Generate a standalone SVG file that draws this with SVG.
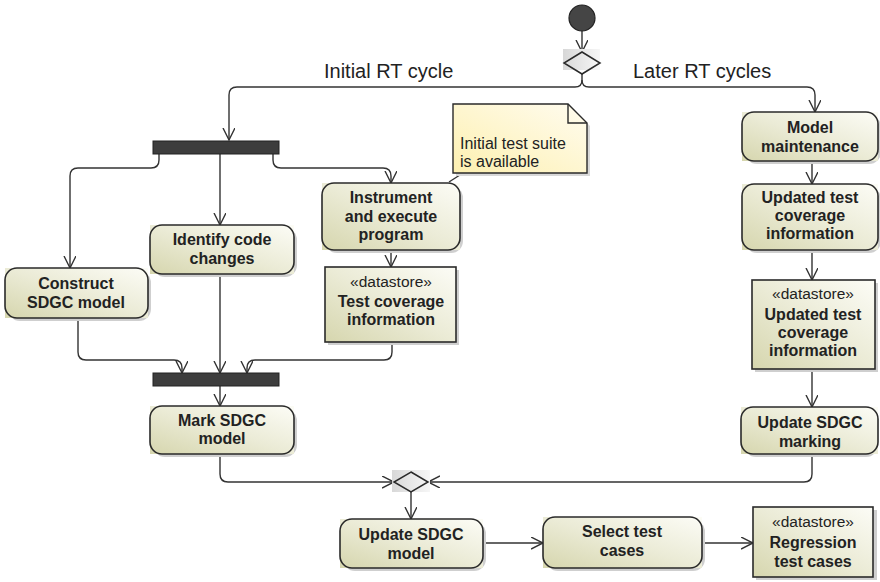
<svg xmlns="http://www.w3.org/2000/svg" width="880" height="582" viewBox="0 0 880 582">
<defs>
<linearGradient id="gNode" x1="0" y1="1" x2="1" y2="0">
<stop offset="0" stop-color="#d6d6ae"/>
<stop offset="0.5" stop-color="#ebebd6"/>
<stop offset="1" stop-color="#fcfcf6"/>
</linearGradient>
<linearGradient id="gNote" x1="0" y1="1" x2="1" y2="0">
<stop offset="0" stop-color="#fdf0b0"/>
<stop offset="1" stop-color="#fffcf0"/>
</linearGradient>
<linearGradient id="gDia" x1="0" y1="0" x2="1" y2="0">
<stop offset="0" stop-color="#d8d8d8"/>
<stop offset="1" stop-color="#f6f6f6"/>
</linearGradient>
<marker id="arr" markerUnits="userSpaceOnUse" markerWidth="14" markerHeight="14" refX="12" refY="6" orient="auto">
<path d="M0,0 L12,6 L0,12" fill="none" stroke="#333" stroke-width="1.4"/>
</marker>
<style>
.ln{fill:none;stroke:#333;stroke-width:1.4}
.ar{marker-end:url(#arr)}
.fill{fill:url(#gNode)}
.bd{fill:none;stroke:#2a2a2a;stroke-width:1.6}
.sh{fill:#cfcfcf}
.bar{fill:#3d3d3d;stroke:#222;stroke-width:1}
.t{font-family:"Liberation Sans",Arial,sans-serif;font-size:16px;font-weight:bold;fill:#222;text-anchor:middle}
.st{font-family:"Liberation Sans",Arial,sans-serif;font-size:15.5px;fill:#222;text-anchor:middle}
.lbl{font-family:"Liberation Sans",Arial,sans-serif;font-size:20px;fill:#222}
.nt{font-family:"Liberation Sans",Arial,sans-serif;font-size:16px;fill:#222}
</style>
</defs>
<rect width="880" height="582" fill="#fff"/>

<g id="connectors">
<path class="ln ar" d="M582,31 V52"/>
<path class="ln ar" d="M582,74 V80 Q582,87 575,87 H237 Q229,87 229,95 V140"/>
<path class="ln ar" d="M582,80 Q582,87 589,87 H807 Q815,87 815,95 V112"/>
<path class="ln ar" d="M159,154 V160 Q159,168 151,168 H78 Q70,168 70,176 V268"/>
<path class="ln ar" d="M220,154 V225"/>
<path class="ln ar" d="M273,154 V160 Q273,168 281,168 H383 Q391,168 391,176 V183"/>
<path class="ln ar" d="M391,250 V267"/>
<path class="ln ar" d="M78,318 V352 Q78,360 86,360 H174 Q182,360 182,368 V373"/>
<path class="ln ar" d="M220,274 V373"/>
<path class="ln ar" d="M392,342 V352 Q392,360 384,360 H255 Q247,360 247,368 V373"/>
<path class="ln ar" d="M220,386 V406"/>
<path class="ln ar" d="M220,454 V474 Q220,482 228,482 H394"/>
<path class="ln ar" d="M812,454 V474 Q812,482 804,482 H428"/>
<path class="ln ar" d="M411,492 V519"/>
<path class="ln ar" d="M483,543 H543"/>
<path class="ln ar" d="M702,543 H753"/>
<path class="ln ar" d="M812,161 V184"/>
<path class="ln ar" d="M812,250 V280"/>
<path class="ln ar" d="M812,369 V407"/>
<path class="ln" d="M463,173 L449,182"/>
<text class="lbl" x="324" y="78">Initial RT cycle</text>
<text class="lbl" x="633" y="78">Later RT cycles</text>
</g>

<g id="start">
<circle cx="582" cy="18" r="13" fill="#454545" stroke="#222" stroke-width="1.2"/>
</g>

<g id="decision">
<rect x="563" y="49" width="37" height="21" fill="url(#gDia)"/>
<polygon points="582,52 600,63 582,74 564,63" fill="none" stroke="#2a2a2a" stroke-width="1.5"/>
</g>

<g id="fork">
<rect class="bar" x="153" y="141" width="126" height="13"/>
</g>

<g id="construct">
<rect class="sh" x="8" y="271" width="143" height="50" rx="12"/>
<rect class="fill" x="5" y="268" width="143" height="50"/>
<rect class="bd" x="5" y="268" width="143" height="50" rx="12"/>
<text class="t" x="76" y="289">Construct</text>
<text class="t" x="76" y="308">SDGC model</text>
</g>

<g id="identify">
<rect class="sh" x="153" y="228" width="144" height="49" rx="12"/>
<rect class="fill" x="150" y="225" width="144" height="49"/>
<rect class="bd" x="150" y="225" width="144" height="49" rx="12"/>
<text class="t" x="222" y="245">Identify code</text>
<text class="t" x="222" y="264">changes</text>
</g>

<g id="instrument">
<rect class="sh" x="325" y="186" width="138" height="67" rx="12"/>
<rect class="fill" x="322" y="183" width="138" height="67"/>
<rect class="bd" x="322" y="183" width="138" height="67" rx="12"/>
<text class="t" x="391" y="203">Instrument</text>
<text class="t" x="391" y="222">and execute</text>
<text class="t" x="391" y="240">program</text>
</g>

<g id="note">
<polygon points="456,107 571,107 590,126 590,176 456,176" fill="#d8d8d8"/>
<polygon points="453,104 568,104 587,123 587,173 453,173" fill="url(#gNote)" stroke="#2a2a2a" stroke-width="1.4"/>
<path d="M568,104 V123 H587" fill="none" stroke="#2a2a2a" stroke-width="1.4"/>
<text class="nt" x="460" y="149">Initial test suite</text>
<text class="nt" x="460" y="167">is available</text>
</g>

<g id="testcoverage">
<rect class="sh" x="328" y="270" width="131" height="75"/>
<rect class="fill" x="325" y="267" width="131" height="75"/>
<rect class="bd" x="325" y="267" width="131" height="75"/>
<text class="st" x="391" y="287">«datastore»</text>
<text class="t" x="391" y="307">Test coverage</text>
<text class="t" x="391" y="325">information</text>
</g>

<g id="join">
<rect class="bar" x="153" y="373" width="126" height="13"/>
</g>

<g id="mark">
<rect class="sh" x="153" y="409" width="144" height="48" rx="12"/>
<rect class="fill" x="150" y="406" width="144" height="48"/>
<rect class="bd" x="150" y="406" width="144" height="48" rx="12"/>
<text class="t" x="222" y="426">Mark SDGC</text>
<text class="t" x="222" y="444">model</text>
</g>

<g id="merge">
<rect x="392" y="470" width="38" height="22" fill="url(#gDia)"/>
<polygon points="411,472 428,482 411,492 394,482" fill="none" stroke="#2a2a2a" stroke-width="1.5"/>
</g>

<g id="updatemodel">
<rect class="sh" x="343" y="522" width="143" height="49" rx="12"/>
<rect class="fill" x="340" y="519" width="143" height="49"/>
<rect class="bd" x="340" y="519" width="143" height="49" rx="12"/>
<text class="t" x="411" y="540">Update SDGC</text>
<text class="t" x="411" y="559">model</text>
</g>

<g id="select">
<rect class="sh" x="546" y="520" width="159" height="51" rx="12"/>
<rect class="fill" x="543" y="517" width="159" height="51"/>
<rect class="bd" x="543" y="517" width="159" height="51" rx="12"/>
<text class="t" x="622" y="537">Select test</text>
<text class="t" x="622" y="556">cases</text>
</g>

<g id="regression">
<rect class="sh" x="756" y="510" width="121" height="70"/>
<rect class="fill" x="753" y="507" width="120" height="70"/>
<rect class="bd" x="753" y="507" width="120" height="70"/>
<text class="st" x="813" y="527">«datastore»</text>
<text class="t" x="813" y="548">Regression</text>
<text class="t" x="813" y="567">test cases</text>
</g>

<g id="maintenance">
<rect class="sh" x="745" y="115" width="136" height="49" rx="12"/>
<rect class="fill" x="742" y="112" width="136" height="49"/>
<rect class="bd" x="742" y="112" width="136" height="49" rx="12"/>
<text class="t" x="810" y="133">Model</text>
<text class="t" x="810" y="152">maintenance</text>
</g>

<g id="updatedcov">
<rect class="sh" x="745" y="187" width="136" height="66" rx="12"/>
<rect class="fill" x="742" y="184" width="136" height="66"/>
<rect class="bd" x="742" y="184" width="136" height="66" rx="12"/>
<text class="t" x="810" y="203">Updated test</text>
<text class="t" x="810" y="221">coverage</text>
<text class="t" x="810" y="239">information</text>
</g>

<g id="updatedcovstore">
<rect class="sh" x="755" y="283" width="123" height="89"/>
<rect class="fill" x="752" y="280" width="123" height="89"/>
<rect class="bd" x="752" y="280" width="123" height="89"/>
<text class="st" x="813" y="299">«datastore»</text>
<text class="t" x="813" y="320">Updated test</text>
<text class="t" x="813" y="338">coverage</text>
<text class="t" x="813" y="356">information</text>
</g>

<g id="updatemarking">
<rect class="sh" x="744" y="410" width="134" height="47" rx="12"/>
<rect class="fill" x="741" y="407" width="137" height="47"/>
<rect class="bd" x="741" y="407" width="137" height="47" rx="12"/>
<text class="t" x="810" y="428">Update SDGC</text>
<text class="t" x="810" y="447">marking</text>
</g>
</svg>
